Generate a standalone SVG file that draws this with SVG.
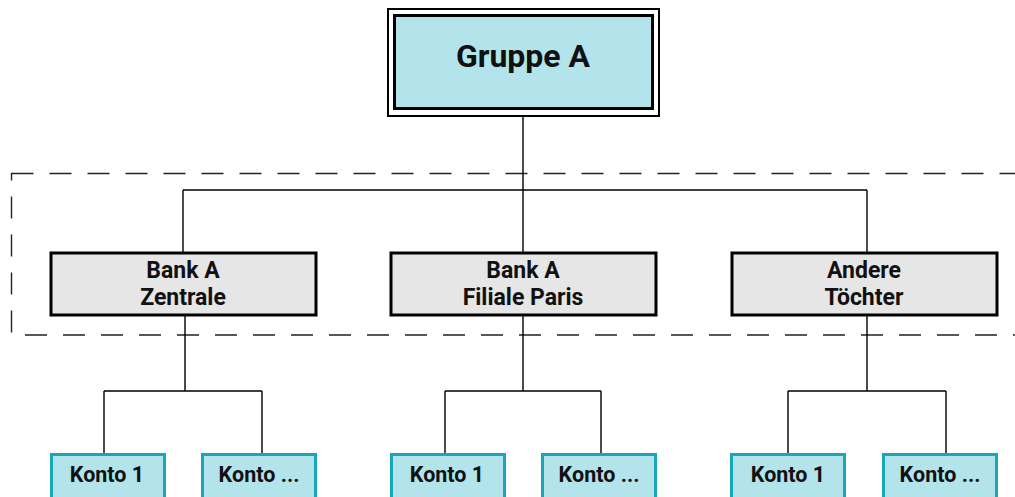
<svg xmlns="http://www.w3.org/2000/svg" width="1015" height="497" viewBox="0 0 1015 497">
<style>
text{font-family:Roboto,"Liberation Sans",sans-serif;font-weight:bold;fill:#111;text-anchor:middle}
.bank{fill:#e6e6e6;stroke:#000;stroke-width:3}
.konto{fill:#b3e4ec;stroke:#18a6bc;stroke-width:3}
.conn{fill:none;stroke:#000;stroke-width:1.4}
.t2{font-size:23px}
.t3{font-size:21.5px}
</style>
<rect width="1015" height="497" fill="#fff"/>
<rect x="11.5" y="173.5" width="1020" height="161.5" fill="none" stroke="#222" stroke-width="1.4" stroke-dasharray="22,16"/>
<g id="connectors" class="conn">
<path d="M523 116V190M183 190H867M183 190V252M523 190V252M867 190V252"/>
<path d="M185 315V391M104 391H262M104 391V454M262 391V454"/>
<path d="M523 315V391M445 391H601M445 391V454M601 391V454"/>
<path d="M867 315V391M788 391H946M788 391V454M946 391V454"/>
</g>
<g id="gruppe-a">
<rect x="388" y="9" width="271" height="107" fill="#fff" stroke="#000" stroke-width="2"/>
<rect x="394.5" y="15.5" width="258" height="93" fill="#b3e4ec" stroke="#000" stroke-width="3"/>
<text x="523" y="67" font-size="32">Gruppe A</text>
</g>
<g id="bank-zentrale">
<rect class="bank" x="51" y="253" width="265" height="62"/>
<text class="t2" x="183" y="278">Bank A</text>
<text class="t2" x="183" y="305">Zentrale</text>
</g>
<g id="bank-paris">
<rect class="bank" x="391" y="253" width="265" height="62"/>
<text class="t2" x="523" y="278">Bank A</text>
<text class="t2" x="523" y="305">Filiale Paris</text>
</g>
<g id="andere-toechter">
<rect class="bank" x="732" y="253" width="265" height="62"/>
<text class="t2" x="864" y="278">Andere</text>
<text class="t2" x="864" y="305">Töchter</text>
</g>
<g id="konto-1a">
<rect class="konto" x="51.5" y="454.5" width="113" height="60"/>
<text class="t3" x="107" y="482">Konto 1</text>
</g>
<g id="konto-na">
<rect class="konto" x="202.5" y="454.5" width="113" height="60"/>
<text class="t3" x="259" y="482">Konto ...</text>
</g>
<g id="konto-1b">
<rect class="konto" x="391.5" y="454.5" width="113" height="60"/>
<text class="t3" x="447" y="482">Konto 1</text>
</g>
<g id="konto-nb">
<rect class="konto" x="542.5" y="454.5" width="113" height="60"/>
<text class="t3" x="599" y="482">Konto ...</text>
</g>
<g id="konto-1c">
<rect class="konto" x="731.5" y="454.5" width="113" height="60"/>
<text class="t3" x="788" y="482">Konto 1</text>
</g>
<g id="konto-nc">
<rect class="konto" x="883.5" y="454.5" width="113" height="60"/>
<text class="t3" x="940" y="482">Konto ...</text>
</g>
</svg>
